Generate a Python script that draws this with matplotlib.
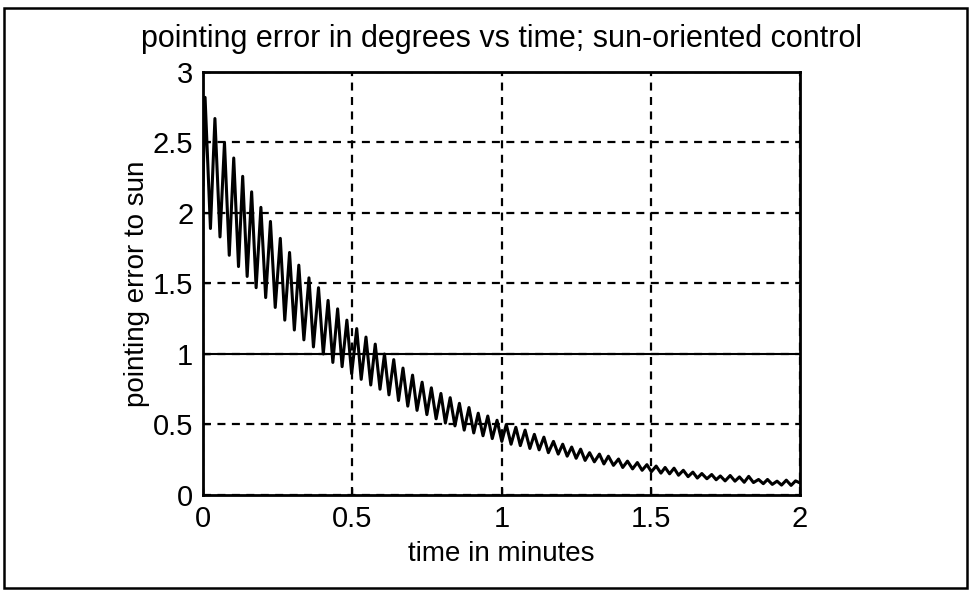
import numpy as np
import matplotlib
matplotlib.use("Agg")
import matplotlib.pyplot as plt
from matplotlib.patches import Rectangle

# --- data ---
# peaks of the oscillation (time in minutes, error in degrees)
t_peak = [0.007, 0.040, 0.072, 0.103, 0.133, 0.163, 0.194, 0.226, 0.259, 0.290,
          0.321, 0.355, 0.387, 0.419, 0.451, 0.482, 0.515, 0.546, 0.577, 0.608,
          0.639, 0.670, 0.702, 0.734, 0.765, 0.797, 0.828, 0.859, 0.891, 0.922,
          0.954, 0.985, 1.016, 1.048, 1.079, 1.110, 1.142, 1.174, 1.205, 1.235,
          1.265, 1.295, 1.328, 1.358, 1.392, 1.422, 1.455, 1.487, 1.518, 1.548,
          1.578, 1.609, 1.641, 1.671, 1.704, 1.733, 1.766, 1.797, 1.828, 1.861,
          1.891, 1.923, 1.954, 1.985]
v_peak = [2.82, 2.67, 2.50, 2.39, 2.26, 2.15, 2.04, 1.94, 1.82, 1.72,
          1.63, 1.54, 1.47, 1.38, 1.32, 1.24, 1.18, 1.12, 1.07, 1.00,
          0.96, 0.90, 0.85, 0.80, 0.76, 0.72, 0.69, 0.65, 0.62, 0.58,
          0.56, 0.53, 0.50, 0.48, 0.46, 0.43, 0.41, 0.38, 0.36, 0.34,
          0.325, 0.30, 0.29, 0.275, 0.255, 0.24, 0.23, 0.215, 0.205, 0.195,
          0.19, 0.175, 0.162, 0.152, 0.145, 0.135, 0.138, 0.128, 0.132, 0.11,
          0.11, 0.098, 0.105, 0.10]

# troughs (plus start and end points)
t_trough = [0.000, 0.025, 0.057, 0.088, 0.119, 0.148, 0.178, 0.210, 0.242, 0.274,
            0.306, 0.338, 0.370, 0.403, 0.435, 0.466, 0.498, 0.530, 0.562, 0.593,
            0.623, 0.655, 0.686, 0.717, 0.750, 0.781, 0.812, 0.844, 0.875, 0.907,
            0.938, 0.969, 1.001, 1.032, 1.063, 1.095, 1.126, 1.157, 1.190, 1.220,
            1.250, 1.280, 1.311, 1.343, 1.375, 1.406, 1.439, 1.471, 1.502, 1.534,
            1.563, 1.593, 1.625, 1.656, 1.688, 1.719, 1.749, 1.782, 1.813, 1.844,
            1.877, 1.907, 1.938, 1.970, 2.000]
v_trough = [2.20, 1.89, 1.83, 1.70, 1.62, 1.55, 1.47, 1.40, 1.33, 1.24,
            1.17, 1.10, 1.05, 1.00, 0.94, 0.91, 0.86, 0.82, 0.78, 0.75,
            0.71, 0.67, 0.63, 0.60, 0.57, 0.54, 0.51, 0.49, 0.46, 0.44,
            0.42, 0.40, 0.38, 0.36, 0.35, 0.33, 0.32, 0.30, 0.29, 0.275,
            0.26, 0.245, 0.235, 0.22, 0.21, 0.195, 0.185, 0.175, 0.165, 0.155,
            0.15, 0.14, 0.13, 0.12, 0.115, 0.108, 0.10, 0.098, 0.09, 0.088,
            0.08, 0.075, 0.07, 0.068, 0.085]

threshold = 1.0
x_ticks = [0, 0.5, 1, 1.5, 2]
x_ticklabels = ['0', '0.5', '1', '1.5', '2']
y_ticks = [0, 0.5, 1, 1.5, 2, 2.5, 3]
y_ticklabels = ['0', '0.5', '1', '1.5', '2', '2.5', '3']

# merge peaks and troughs into one trace
t_all = np.array(t_peak + t_trough)
v_all = np.array(v_peak + v_trough)
order = np.argsort(t_all)
t_all = t_all[order]
v_all = v_all[order]

plt.rcParams['font.family'] = ['Liberation Sans', 'DejaVu Sans']

fig = plt.figure(figsize=(9.74, 5.92), dpi=100)
ax = fig.add_axes([0.2084, 0.1639, 0.613, 0.7145])

ax.plot(t_all, v_all, color='black', linewidth=2.2)
ax.axhline(threshold, color='black', linewidth=1.5)

ax.set_xlim(0, 2)
ax.set_ylim(0, 3)
ax.set_xticks(x_ticks)
ax.set_xticklabels(x_ticklabels)
ax.set_yticks(y_ticks)
ax.set_yticklabels(y_ticklabels)
ax.tick_params(direction='in', length=5, width=1, labelsize=21, pad=7)
ax.grid(True, color='black', linestyle=(0, (3.6, 2.9)), linewidth=1.6)
for s in ax.spines.values():
    s.set_linewidth(2)

ax.set_title('pointing error in degrees vs time; sun-oriented control', fontsize=22, pad=18)
ax.set_xlabel('time in minutes', fontsize=20, labelpad=6)
ax.set_ylabel('pointing error to sun', fontsize=20, labelpad=2)

# frame around the whole figure
fig.patches.append(Rectangle((0.004, 0.007), 0.989, 0.979, transform=fig.transFigure,
                             fill=False, edgecolor='black', linewidth=1.8))

fig.savefig('out.png', dpi=100)
